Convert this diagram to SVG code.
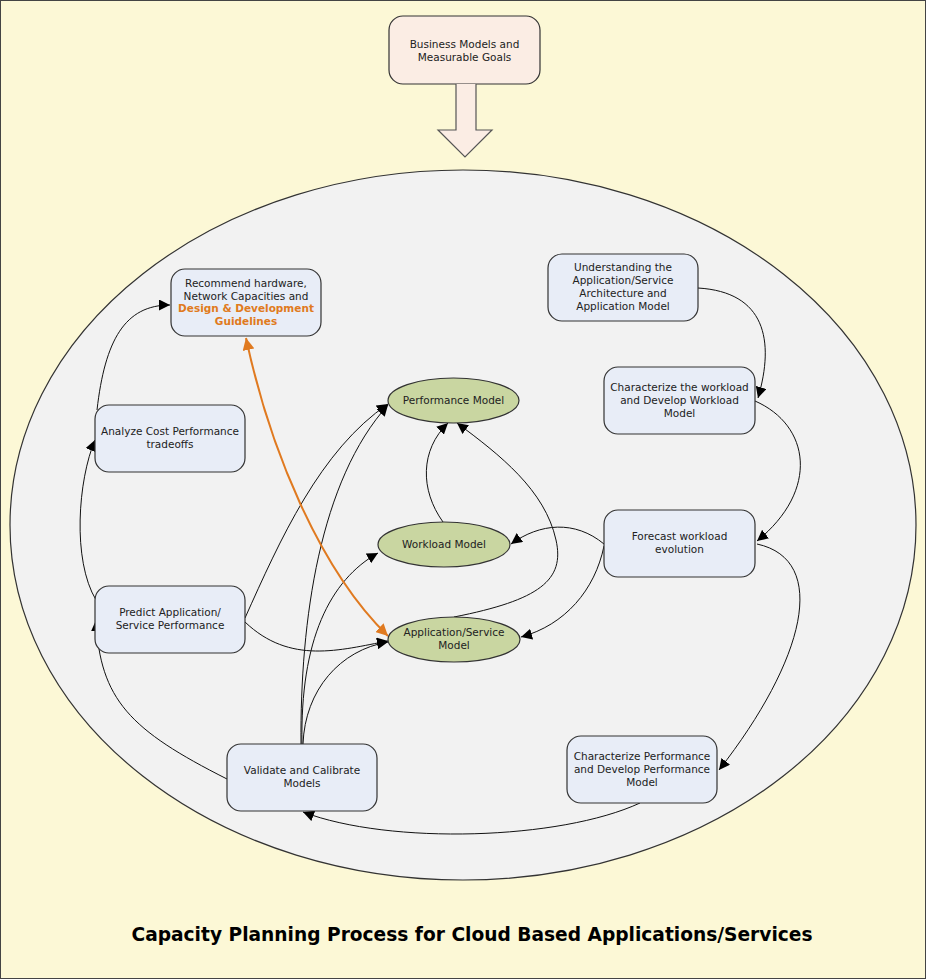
<svg xmlns="http://www.w3.org/2000/svg" width="926" height="979" viewBox="0 0 926 979">
<style>
.box{fill:#e8edf7;stroke:#333;stroke-width:1.2}
.mdl{fill:#c9d6a1;stroke:#333;stroke-width:1.2}
.t{font-family:"DejaVu Sans",Verdana,sans-serif;font-size:10.5px;fill:#222;text-anchor:middle}
.c{fill:none;stroke:#111;stroke-width:1}
.o{fill:none;stroke:#e07a20;stroke-width:2}
</style>
<defs>
<marker id="ah" viewBox="0 0 10 10" refX="10" refY="5" markerWidth="11" markerHeight="11" markerUnits="userSpaceOnUse" orient="auto"><path d="M0,0L10,5L0,10z" fill="#000"/></marker>
<marker id="oe" viewBox="0 0 10 10" refX="10" refY="5" markerWidth="12" markerHeight="12" markerUnits="userSpaceOnUse" orient="auto"><path d="M0,0L10,5L0,10z" fill="#e07a20"/></marker>
<marker id="os" viewBox="0 0 10 10" refX="0" refY="5" markerWidth="12" markerHeight="12" markerUnits="userSpaceOnUse" orient="auto"><path d="M10,0L0,5L10,10z" fill="#e07a20"/></marker>
</defs>
<rect x="0.5" y="0.5" width="925" height="978" fill="#fcf8d6" stroke="#444"/>
<ellipse cx="463" cy="525" rx="453" ry="355" fill="#f2f2f2" stroke="#333" stroke-width="1.2"/>
<g id="business">
<rect x="389" y="16" width="151" height="68" rx="14" fill="#fbede4" stroke="#333" stroke-width="1.2"/>
<text class="t" x="464.5" y="48">Business Models and</text>
<text class="t" x="464.5" y="61">Measurable Goals</text>
</g>
<g id="bigarrow">
<path d="M456,84V130H438L465,157L492,130H476V84" fill="#fbede4" stroke="#555" stroke-width="1.2"/>
</g>
<g id="connectors">
<path class="c" marker-end="url(#ah)" d="M698,288C765,292 775,340 758,398"/>
<path class="c" marker-end="url(#ah)" d="M755,401C810,425 820,490 757,541"/>
<path class="c" marker-end="url(#ah)" d="M604,544C575,520 540,523 511,544"/>
<path class="c" marker-end="url(#ah)" d="M604,546C595,590 565,625 521,637"/>
<path class="c" marker-end="url(#ah)" d="M757,544C830,560 805,660 719,770"/>
<path class="c" marker-end="url(#ah)" d="M640,803C560,840 390,845 303,812"/>
<path class="c" marker-end="url(#ah)" d="M227,779C130,730 100,700 96,620"/>
<path class="c" marker-end="url(#ah)" d="M96,600C72,560 78,480 95,440"/>
<path class="c" marker-end="url(#ah)" d="M97,410C105,340 125,305 170,305"/>
<path class="c" marker-end="url(#ah)" d="M245,618C280,540 320,450 388,404"/>
<path class="c" marker-end="url(#ah)" d="M245,622C290,665 340,650 388,641"/>
<path class="c" marker-end="url(#ah)" d="M301,744C300,620 320,480 388,405"/>
<path class="c" marker-end="url(#ah)" d="M302,744C300,640 330,580 378,553"/>
<path class="c" marker-end="url(#ah)" d="M303,744C305,690 340,650 388,642"/>
<path class="c" marker-end="url(#ah)" d="M443,522C420,490 420,450 448,423"/>
<path class="c" marker-end="url(#ah)" d="M454,617C540,600 565,580 556,540C545,490 500,455 457,423"/>
<path class="o" marker-start="url(#os)" marker-end="url(#oe)" d="M246,338C270,450 320,570 388,636"/>
</g>
<g id="recommend">
<rect class="box" x="171" y="269" width="150" height="67" rx="14"/>
<text class="t" x="246" y="287">Recommend hardware,</text>
<text class="t" x="246" y="300">Network Capacities and</text>
<text class="t" x="246" y="312" style="fill:#e07a20;font-weight:bold">Design &amp; Development</text>
<text class="t" x="246" y="325" style="fill:#e07a20;font-weight:bold">Guidelines</text>
</g>
<g id="understanding">
<rect class="box" x="548" y="254" width="150" height="67" rx="14"/>
<text class="t" x="623" y="271">Understanding the</text>
<text class="t" x="623" y="284">Application/Service</text>
<text class="t" x="623" y="297">Architecture and</text>
<text class="t" x="623" y="310">Application Model</text>
</g>
<g id="charworkload">
<rect class="box" x="604" y="367" width="151" height="67" rx="14"/>
<text class="t" x="679.5" y="391">Characterize the workload</text>
<text class="t" x="679.5" y="404">and Develop Workload</text>
<text class="t" x="679.5" y="417">Model</text>
</g>
<g id="analyze">
<rect class="box" x="95" y="405" width="150" height="67" rx="14"/>
<text class="t" x="170" y="435">Analyze Cost Performance</text>
<text class="t" x="170" y="448">tradeoffs</text>
</g>
<g id="forecast">
<rect class="box" x="604" y="510" width="151" height="67" rx="14"/>
<text class="t" x="679.5" y="540">Forecast workload</text>
<text class="t" x="679.5" y="553">evolution</text>
</g>
<g id="predict">
<rect class="box" x="95" y="586" width="150" height="67" rx="14"/>
<text class="t" x="170" y="616">Predict Application/</text>
<text class="t" x="170" y="629">Service Performance</text>
</g>
<g id="validate">
<rect class="box" x="227" y="744" width="150" height="67" rx="14"/>
<text class="t" x="302" y="774">Validate and Calibrate</text>
<text class="t" x="302" y="787">Models</text>
</g>
<g id="charperf">
<rect class="box" x="567" y="736" width="150" height="67" rx="14"/>
<text class="t" x="642" y="760">Characterize Performance</text>
<text class="t" x="642" y="773">and Develop Performance</text>
<text class="t" x="642" y="786">Model</text>
</g>
<g id="perfmodel">
<ellipse class="mdl" cx="453.5" cy="400.5" rx="65.5" ry="22.5"/>
<text class="t" x="453.5" y="404">Performance Model</text>
</g>
<g id="workloadmodel">
<ellipse class="mdl" cx="444" cy="544.5" rx="66" ry="22.5"/>
<text class="t" x="444" y="548">Workload Model</text>
</g>
<g id="appmodel">
<ellipse class="mdl" cx="454" cy="639.5" rx="66" ry="22.5"/>
<text class="t" x="454" y="636">Application/Service</text>
<text class="t" x="454" y="649">Model</text>
</g>
<text x="472" y="941" textLength="681" lengthAdjust="spacingAndGlyphs" style="font-family:'DejaVu Sans',Verdana,sans-serif;font-size:19px;font-weight:bold;fill:#000;text-anchor:middle">Capacity Planning Process for Cloud Based Applications/Services</text>
</svg>
